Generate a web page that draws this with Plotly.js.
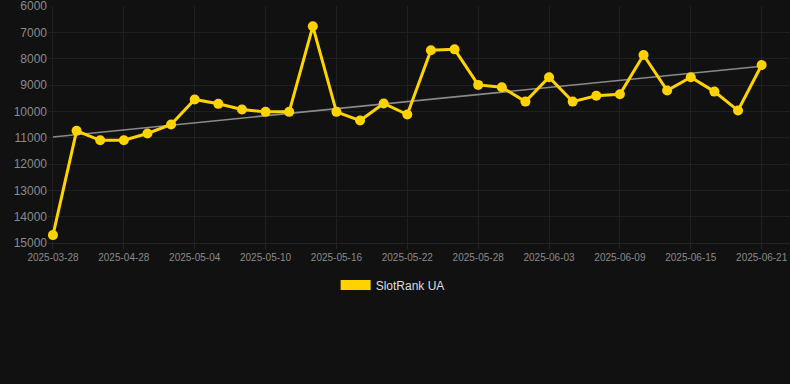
<!DOCTYPE html>
<html>
<head>
<meta charset="utf-8">
<script src="https://cdn.plot.ly/plotly-3.0.1.min.js"></script>
<style>
html,body{margin:0;padding:0;background:#111111;}
#chart{width:790px;height:384px;}
</style>
</head>
<body>
<div id="chart"></div>
<script>
const dates = [
  "2025-03-28","2025-04-24","2025-04-26","2025-04-28","2025-04-30","2025-05-02",
  "2025-05-04","2025-05-06","2025-05-08","2025-05-10","2025-05-12","2025-05-14",
  "2025-05-16","2025-05-18","2025-05-20","2025-05-22","2025-05-24","2025-05-26",
  "2025-05-28","2025-05-30","2025-06-01","2025-06-03","2025-06-05","2025-06-07",
  "2025-06-09","2025-06-11","2025-06-13","2025-06-15","2025-06-17","2025-06-19",
  "2025-06-21"
];
const rank = [
  14700,10740,11100,11100,10840,10500,
  9550,9715,9930,10020,10020,6770,
  10020,10350,9700,10120,7680,7645,
  8995,9085,9630,8705,9630,9410,
  9350,7860,9210,8705,9250,9970,
  8240
];
const tickDates = ["2025-03-28","2025-04-28","2025-05-04","2025-05-10","2025-05-16",
  "2025-05-22","2025-05-28","2025-06-03","2025-06-09","2025-06-15","2025-06-21"];
const yTicks = [6000,7000,8000,9000,10000,11000,12000,13000,14000,15000];
const seriesName = "SlotRank UA";

// linear regression trend over index
const n = rank.length;
let sx=0, sy=0, sxy=0, sxx=0;
for (let i=0;i<n;i++){ sx+=i; sy+=rank[i]; sxy+=i*rank[i]; sxx+=i*i; }
const slope = (n*sxy - sx*sy)/(n*sxx - sx*sx);
const intercept = (sy - slope*sx)/n;
const trend = rank.map((_,i)=>intercept + slope*i);

const gold = "#FFD300";
const traces = [
  {
    x: dates, y: trend, type: "scatter", mode: "lines",
    line: {color: "#8a8a8a", width: 1.6}, hoverinfo: "skip", showlegend: false
  },
  {
    x: dates, y: rank, type: "scatter", mode: "lines+markers",
    line: {color: gold, width: 3},
    marker: {color: gold, size: 10},
    showlegend: false, name: seriesName
  },
  {
    x: [null], y: [null], type: "scatter", mode: "lines",
    line: {color: gold, width: 11}, name: seriesName, showlegend: true
  }
];

const layout = {
  width: 790, height: 384,
  paper_bgcolor: "#111111", plot_bgcolor: "#111111",
  margin: {l: 48, r: 0, t: 6, b: 141},
  font: {family: "Liberation Sans, Arial, sans-serif", color: "#8a8a8a"},
  xaxis: {
    type: "category",
    categoryorder: "array", categoryarray: dates,
    range: [-0.21, 31.2],
    tickmode: "array", tickvals: tickDates, ticktext: tickDates,
    tickfont: {size: 10, color: "#8a8a8a"},
    showgrid: true, gridcolor: "#202020", gridwidth: 1,
    zeroline: false, showline: true, linecolor: "#262626",
    ticks: "outside", ticklen: 5, tickcolor: "#262626"
  },
  yaxis: {
    range: [15000.5, 5999],
    tickmode: "array", tickvals: yTicks, ticktext: yTicks.map(String),
    tickfont: {size: 12, color: "#8a8a8a"},
    ticklabeloverflow: "allow",
    showgrid: true, gridcolor: "#202020", gridwidth: 1,
    zeroline: false, showline: false, ticks: ""
  },
  showlegend: true,
  legend: {
    orientation: "h", xref: "container", yref: "container",
    x: 0.497, xanchor: "center", y: 1 - 285/384, yanchor: "middle",
    font: {size: 12, color: "#dddddd"},
    bgcolor: "rgba(0,0,0,0)"
  }
};

Plotly.newPlot("chart", traces, layout, {displayModeBar: false, staticPlot: true});
</script>
</body>
</html>
